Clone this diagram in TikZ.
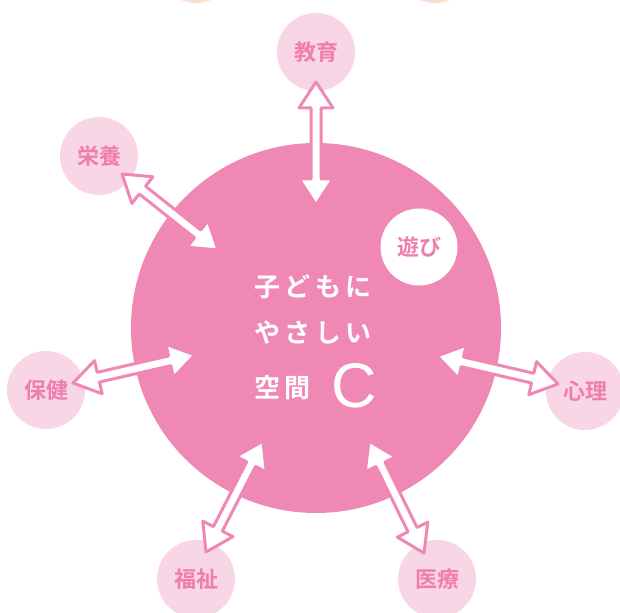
\documentclass[tikz,border=0pt]{standalone}
\usepackage{fontspec}
\usetikzlibrary{calc}
\newfontfamily\jp{Noto Sans CJK JP Bold}
\newfontfamily\jpwide{Noto Sans CJK JP Bold}[LetterSpace=17]
\newfontfamily\lat{Liberation Sans}
\definecolor{corepink}{HTML}{F088B5}
\definecolor{palepink}{HTML}{F9D6E6}
\definecolor{labelpink}{HTML}{EF7DAD}
\definecolor{peach}{HTML}{FDDDD2}
\tikzset{
  field/.style={circle,fill=palepink,minimum size=78pt,inner sep=0pt,
    text=labelpink,font=\jp\fontsize{22}{22}\selectfont},
  fatarrow/.style={draw=corepink,fill=white,line width=3pt,line join=round}
}
\def\fat#1#2{%
  \coordinate (h1) at ($(#1)!26pt!(#2)$);
  \coordinate (h2) at ($(#2)!26pt!(#1)$);
  \draw[fatarrow] (#1) -- ($(h1)!17pt!90:(#1)$) -- ($(h1)!5pt!90:(#1)$)
    -- ($(h2)!5pt!-90:(#2)$) -- ($(h2)!17pt!-90:(#2)$) -- (#2)
    -- ($(h2)!17pt!90:(#2)$) -- ($(h2)!5pt!90:(#2)$)
    -- ($(h1)!5pt!-90:(#1)$) -- ($(h1)!17pt!-90:(#1)$) -- cycle;}

\begin{document}
\begin{tikzpicture}[x=1pt,y=-1pt]
  \useasboundingbox (0,0) rectangle (620,612);
  % circles
  \fill[peach] (196,-36) circle (39);
  \fill[peach] (435,-36) circle (39);
  \node[circle,fill=corepink,minimum size=370pt,inner sep=0pt] (core) at (316,328) {};
  \node[circle,fill=white,minimum size=77pt,inner sep=0pt,text=labelpink,
    font=\jp\fontsize{22}{22}\selectfont] (play) at (419,247) {遊び};
  \node[field] (edu) at (316,52) {教育};
  \node[field] (nutr) at (99,156) {栄養};
  \node[field] (health) at (46,390) {保健};
  \node[field] (psych) at (585,391) {心理};
  \node[field] (welfare) at (196,579) {福祉};
  \node[field] (medical) at (437,579) {医療};
  % centre text
  \node[anchor=west,text=white,font=\jpwide\fontsize{26}{26}\selectfont] (line1) at (251,287) {子どもに};
  \node[anchor=west,text=white,font=\jpwide\fontsize{26}{26}\selectfont] (line2) at (251,333) {やさしい};
  \node[anchor=west,text=white,font=\jpwide\fontsize{26}{26}\selectfont] (line3) at (251,388) {空間};
  \node[text=white,font=\lat\fontsize{63}{63}\selectfont] (bigc) at (354,386) {C};
  % arrow ends
  \coordinate (edu-a) at (316,82);    \coordinate (edu-b) at (316,205);
  \coordinate (nutr-a) at (122,174);  \coordinate (nutr-b) at (218,250);
  \coordinate (health-a) at (73,383); \coordinate (health-b) at (195,355);
  \coordinate (psych-a) at (437,356); \coordinate (psych-b) at (558,384);
  \coordinate (welf-a) at (206,552);  \coordinate (welf-b) at (263,441);
  \coordinate (med-a) at (424,553);   \coordinate (med-b) at (369,441);
  \fat{edu-a}{edu-b}
  \fat{nutr-a}{nutr-b}
  \fat{health-a}{health-b}
  \fat{psych-a}{psych-b}
  \fat{welf-a}{welf-b}
  \fat{med-a}{med-b}
\end{tikzpicture}
\end{document}
